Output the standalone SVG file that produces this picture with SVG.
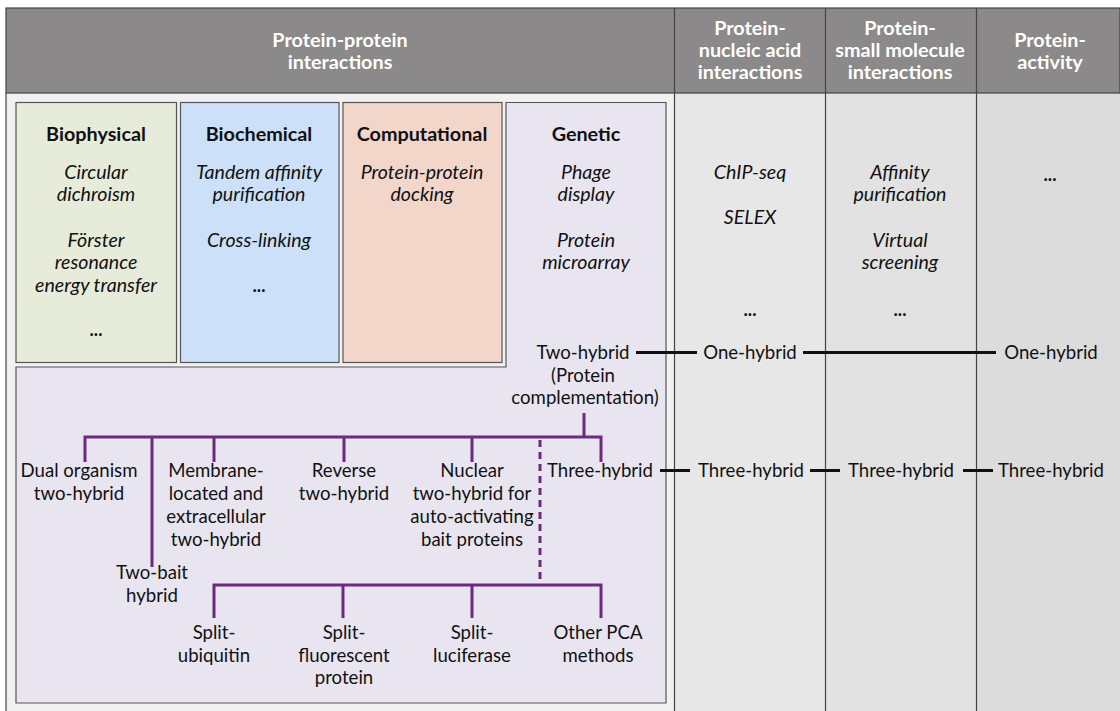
<svg xmlns="http://www.w3.org/2000/svg" width="1120" height="711" viewBox="0 0 1120 711">
<style>
text{font-family:Lato,"Open Sans","Liberation Sans",sans-serif;font-size:18.6px;text-anchor:middle;fill:#111}
.hd{fill:#fff;font-weight:bold;font-size:19.8px}
.bh{font-weight:bold;font-size:19.8px}
.it{font-style:italic;font-size:19.6px}
.dot{font-weight:bold;font-size:18px}
.blk{stroke:#111;stroke-width:3;fill:none}
.pur{stroke:#6b2a7e;stroke-width:3;fill:none}
.box{stroke:#555;stroke-width:1.2}
</style>
<rect x="0" y="0" width="1120" height="711" fill="#fff"/>
<!-- column backgrounds -->
<rect x="6" y="93" width="668" height="618" fill="#f1f1f1"/>
<rect x="674" y="93" width="151" height="618" fill="#e7e7e7"/>
<rect x="825" y="93" width="151" height="618" fill="#e2e2e2"/>
<rect x="976" y="93" width="144" height="618" fill="#dcdcdc"/>
<g stroke="#444" stroke-width="1.2">
<line x1="6" y1="93" x2="6" y2="711"/>
<line x1="674.5" y1="93" x2="674.5" y2="711"/>
<line x1="825.5" y1="93" x2="825.5" y2="711"/>
<line x1="976.5" y1="93" x2="976.5" y2="711"/>
</g>
<!-- header -->
<g id="header">
<rect x="6" y="8" width="1114" height="85" fill="#8b8989" stroke="#444" stroke-width="1.2"/>
<line x1="674.5" y1="8" x2="674.5" y2="93" stroke="#444" stroke-width="1.2"/>
<line x1="825.5" y1="8" x2="825.5" y2="93" stroke="#444" stroke-width="1.2"/>
<line x1="976.5" y1="8" x2="976.5" y2="93" stroke="#444" stroke-width="1.2"/>
<text class="hd" x="340" y="47">Protein-protein</text>
<text class="hd" x="340" y="69">interactions</text>
<text class="hd" x="750" y="35">Protein-</text>
<text class="hd" x="750" y="57">nucleic acid</text>
<text class="hd" x="750" y="79">interactions</text>
<text class="hd" x="900" y="35">Protein-</text>
<text class="hd" x="900" y="57">small molecule</text>
<text class="hd" x="900" y="79">interactions</text>
<text class="hd" x="1050" y="47">Protein-</text>
<text class="hd" x="1050" y="69">activity</text>
</g>
<!-- boxes -->
<g id="genetic">
<path class="box" d="M506,102.5 H666 V703 H16 V367 H506 Z" fill="#e8e5f1"/>
<text class="bh" x="586" y="141">Genetic</text>
<text class="it" x="586" y="179">Phage</text>
<text class="it" x="586" y="201">display</text>
<text class="it" x="586" y="247">Protein</text>
<text class="it" x="586" y="269">microarray</text>
</g>
<g id="biophysical">
<rect class="box" x="16" y="102.5" width="160.5" height="260" fill="#e6ecd9"/>
<text class="bh" x="96" y="141">Biophysical</text>
<text class="it" x="96" y="179">Circular</text>
<text class="it" x="96" y="201">dichroism</text>
<text class="it" x="96" y="247">Förster</text>
<text class="it" x="96" y="269">resonance</text>
<text class="it" x="96" y="292">energy transfer</text>
<text class="dot" x="96" y="336">...</text>
</g>
<g id="biochemical">
<rect class="box" x="180.5" y="102.5" width="158.5" height="260" fill="#cde0fa"/>
<text class="bh" x="259" y="141">Biochemical</text>
<text class="it" x="259" y="179">Tandem affinity</text>
<text class="it" x="259" y="201">purification</text>
<text class="it" x="259" y="247">Cross-linking</text>
<text class="dot" x="259" y="292">...</text>
</g>
<g id="computational">
<rect class="box" x="343" y="102.5" width="159" height="260" fill="#f2d6ca"/>
<text class="bh" x="422" y="141">Computational</text>
<text class="it" x="422" y="179">Protein-protein</text>
<text class="it" x="422" y="201">docking</text>
</g>
<g id="nucleic">
<text class="it" x="750" y="179">ChIP-seq</text>
<text class="it" x="750" y="224">SELEX</text>
<text class="dot" x="750" y="316">...</text>
</g>
<g id="smallmol">
<text class="it" x="900" y="179">Affinity</text>
<text class="it" x="900" y="201">purification</text>
<text class="it" x="900" y="247">Virtual</text>
<text class="it" x="900" y="269">screening</text>
<text class="dot" x="900" y="316">...</text>
</g>
<g id="activity">
<text class="dot" x="1050" y="181">...</text>
</g>
<!-- connectors -->
<g id="connectors">
<line class="blk" x1="636" y1="352.5" x2="697" y2="352.5"/>
<line class="blk" x1="803" y1="352.5" x2="996" y2="352.5"/>
<line class="blk" x1="660" y1="470.5" x2="690" y2="470.5"/>
<line class="blk" x1="810" y1="470.5" x2="840" y2="470.5"/>
<line class="blk" x1="963" y1="470.5" x2="993" y2="470.5"/>
<path class="pur" d="M584,413 V437 M85,437 H601 M85,435.5 V462 M152,437 V567 M214,437 V462 M344,437 V462 M472,437 V462 M601,435.5 V462"/>
<line class="pur" x1="540" y1="440" x2="540" y2="583" stroke-dasharray="7,5"/>
<path class="pur" d="M214,618 V585 H601 V618 M343,585 V618 M472,585 V618"/>
</g>
<!-- nodes in tree -->
<g id="two-hybrid"><text x="583" y="359">Two-hybrid</text><text x="583" y="382">(Protein</text><text x="585" y="404">complementation)</text></g>
<g id="one-hybrid-1"><text x="750" y="359">One-hybrid</text></g>
<g id="one-hybrid-2"><text x="1051" y="359">One-hybrid</text></g>
<g id="three-hybrid-0"><text x="600" y="477">Three-hybrid</text></g>
<g id="three-hybrid-1"><text x="751" y="477">Three-hybrid</text></g>
<g id="three-hybrid-2"><text x="901" y="477">Three-hybrid</text></g>
<g id="three-hybrid-3"><text x="1051" y="477">Three-hybrid</text></g>
<g id="dual"><text x="79" y="477">Dual organism</text><text x="79" y="500">two-hybrid</text></g>
<g id="membrane"><text x="216" y="477">Membrane-</text><text x="216" y="500">located and</text><text x="216" y="523">extracellular</text><text x="216" y="546">two-hybrid</text></g>
<g id="reverse"><text x="344" y="477">Reverse</text><text x="344" y="500">two-hybrid</text></g>
<g id="nuclear"><text x="472" y="477">Nuclear</text><text x="472" y="500">two-hybrid for</text><text x="472" y="523">auto-activating</text><text x="472" y="546">bait proteins</text></g>
<g id="two-bait"><text x="152" y="579">Two-bait</text><text x="152" y="602">hybrid</text></g>
<g id="split-ubiquitin"><text x="214" y="639">Split-</text><text x="214" y="662">ubiquitin</text></g>
<g id="split-fluorescent"><text x="344" y="639">Split-</text><text x="344" y="662">fluorescent</text><text x="344" y="684">protein</text></g>
<g id="split-luciferase"><text x="472" y="639">Split-</text><text x="472" y="662">luciferase</text></g>
<g id="other-pca"><text x="598" y="639">Other PCA</text><text x="598" y="662">methods</text></g>
</svg>
